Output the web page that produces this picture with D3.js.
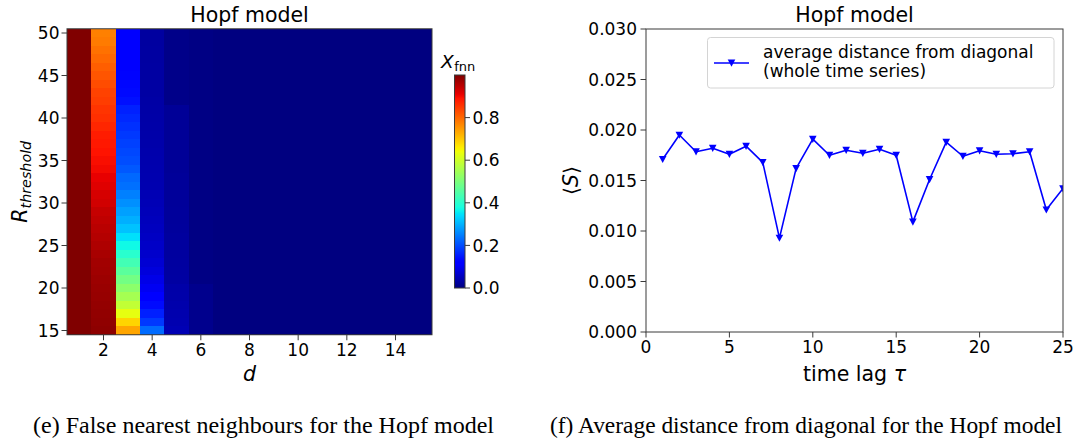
<!DOCTYPE html>
<html lang="en">
<head>
<meta charset="utf-8">
<title>Hopf model - false nearest neighbours and distance from diagonal</title>
<style>
  body { margin: 0; background: #fff; }
  svg text { font-family: "DejaVu Sans", sans-serif; fill: #000; }
  svg text.caption { font-family: "Liberation Serif", "Times New Roman", serif; }
</style>
</head>
<body>
<div id="chart"></div>
<script src="https://cdn.jsdelivr.net/npm/d3@7"></script>
<script>
// ---- data -------------------------------------------------------------
// embedding dimension d (columns) and threshold R (rows, top row first)
var dValues = [1, 2, 3, 4, 5, 6, 7, 8, 9, 10, 11, 12, 13, 14, 15];
var rValues = [50, 49, 48, 47, 46, 45, 44, 43, 42, 41, 40, 39, 38, 37, 36, 35, 34, 33,
               32, 31, 30, 29, 28, 27, 26, 25, 24, 23, 22, 21, 20, 19, 18, 17, 16, 15];

// fraction of false nearest neighbours, one row per R (same order as rValues), d = 1..15
var xfnn = [
  [1.0, 0.775, 0.120, 0.028, 0.008, 0.004, 0, 0, 0, 0, 0, 0, 0, 0, 0],
  [1.0, 0.780, 0.120, 0.028, 0.008, 0.004, 0, 0, 0, 0, 0, 0, 0, 0, 0],
  [1.0, 0.790, 0.122, 0.029, 0.008, 0.004, 0, 0, 0, 0, 0, 0, 0, 0, 0],
  [1.0, 0.800, 0.124, 0.029, 0.008, 0.004, 0, 0, 0, 0, 0, 0, 0, 0, 0],
  [1.0, 0.810, 0.125, 0.030, 0.008, 0.004, 0, 0, 0, 0, 0, 0, 0, 0, 0],
  [1.0, 0.820, 0.127, 0.030, 0.008, 0.004, 0, 0, 0, 0, 0, 0, 0, 0, 0],
  [1.0, 0.830, 0.130, 0.031, 0.008, 0.004, 0, 0, 0, 0, 0, 0, 0, 0, 0],
  [1.0, 0.840, 0.133, 0.031, 0.008, 0.004, 0, 0, 0, 0, 0, 0, 0, 0, 0],
  [1.0, 0.845, 0.140, 0.032, 0.008, 0.004, 0, 0, 0, 0, 0, 0, 0, 0, 0],
  [1.0, 0.855, 0.156, 0.033, 0.020, 0.004, 0, 0, 0, 0, 0, 0, 0, 0, 0],
  [1.0, 0.860, 0.164, 0.034, 0.020, 0.004, 0, 0, 0, 0, 0, 0, 0, 0, 0],
  [1.0, 0.870, 0.172, 0.035, 0.020, 0.004, 0, 0, 0, 0, 0, 0, 0, 0, 0],
  [1.0, 0.880, 0.180, 0.036, 0.020, 0.004, 0, 0, 0, 0, 0, 0, 0, 0, 0],
  [1.0, 0.885, 0.188, 0.037, 0.020, 0.004, 0, 0, 0, 0, 0, 0, 0, 0, 0],
  [1.0, 0.890, 0.195, 0.038, 0.020, 0.004, 0, 0, 0, 0, 0, 0, 0, 0, 0],
  [1.0, 0.895, 0.200, 0.039, 0.020, 0.004, 0, 0, 0, 0, 0, 0, 0, 0, 0],
  [1.0, 0.900, 0.211, 0.040, 0.020, 0.004, 0, 0, 0, 0, 0, 0, 0, 0, 0],
  [1.0, 0.910, 0.227, 0.041, 0.022, 0.004, 0, 0, 0, 0, 0, 0, 0, 0, 0],
  [1.0, 0.917, 0.235, 0.042, 0.022, 0.004, 0, 0, 0, 0, 0, 0, 0, 0, 0],
  [1.0, 0.925, 0.250, 0.045, 0.023, 0.004, 0, 0, 0, 0, 0, 0, 0, 0, 0],
  [1.0, 0.930, 0.266, 0.047, 0.023, 0.004, 0, 0, 0, 0, 0, 0, 0, 0, 0],
  [1.0, 0.940, 0.282, 0.050, 0.024, 0.004, 0, 0, 0, 0, 0, 0, 0, 0, 0],
  [1.0, 0.945, 0.297, 0.052, 0.024, 0.004, 0, 0, 0, 0, 0, 0, 0, 0, 0],
  [1.0, 0.950, 0.315, 0.055, 0.025, 0.004, 0, 0, 0, 0, 0, 0, 0, 0, 0],
  [1.0, 0.955, 0.345, 0.058, 0.026, 0.004, 0, 0, 0, 0, 0, 0, 0, 0, 0],
  [1.0, 0.960, 0.370, 0.062, 0.026, 0.004, 0, 0, 0, 0, 0, 0, 0, 0, 0],
  [1.0, 0.965, 0.400, 0.066, 0.027, 0.004, 0, 0, 0, 0, 0, 0, 0, 0, 0],
  [1.0, 0.970, 0.430, 0.072, 0.028, 0.004, 0, 0, 0, 0, 0, 0, 0, 0, 0],
  [1.0, 0.972, 0.460, 0.080, 0.029, 0.004, 0, 0, 0, 0, 0, 0, 0, 0, 0],
  [1.0, 0.975, 0.490, 0.090, 0.030, 0.004, 0, 0, 0, 0, 0, 0, 0, 0, 0],
  [1.0, 0.978, 0.520, 0.100, 0.035, 0.012, 0, 0, 0, 0, 0, 0, 0, 0, 0],
  [1.0, 0.980, 0.550, 0.112, 0.036, 0.012, 0, 0, 0, 0, 0, 0, 0, 0, 0],
  [1.0, 0.982, 0.585, 0.135, 0.038, 0.012, 0, 0, 0, 0, 0, 0, 0, 0, 0],
  [1.0, 0.984, 0.630, 0.155, 0.040, 0.012, 0, 0, 0, 0, 0, 0, 0, 0, 0],
  [1.0, 0.986, 0.685, 0.180, 0.042, 0.012, 0, 0, 0, 0, 0, 0, 0, 0, 0],
  [1.0, 0.988, 0.735, 0.230, 0.045, 0.012, 0, 0, 0, 0, 0, 0, 0, 0, 0]
];

// average distance from diagonal vs time lag
var lags = [1, 2, 3, 4, 5, 6, 7, 8, 9, 10, 11, 12, 13, 14, 15, 16, 17, 18, 19, 20, 21, 22, 23, 24, 25];
var avgDist = [0.0171, 0.0195, 0.01785, 0.0182, 0.0176, 0.0184, 0.0168, 0.0093, 0.0162, 0.0191,
               0.0175, 0.0180, 0.0177, 0.0181, 0.0175, 0.0109, 0.0151, 0.0188, 0.0174, 0.01795,
               0.0176, 0.01765, 0.01785, 0.0121, 0.0142];

var hmXTicks = [2, 4, 6, 8, 10, 12, 14];
var hmYTicks = [15, 20, 25, 30, 35, 40, 45, 50];
var cbTicks = [0.0, 0.2, 0.4, 0.6, 0.8];
var lagTicks = [0, 5, 10, 15, 20, 25];
var distTicks = [0, 0.005, 0.010, 0.015, 0.020, 0.025, 0.030];

// ---- setup ------------------------------------------------------------
var W = 1075, H = 444;
var axisColor = '#3a3a3a';
var tickFont = 17, labelFont = 20.5;

var svg = d3.select('#chart').append('svg')
  .attr('width', W).attr('height', H)
  .style('display', 'block');

svg.append('rect').attr('width', W).attr('height', H).attr('fill', '#fff');

// matplotlib "jet" colormap built from per-channel linear scales
var jr = d3.scaleLinear().domain([0, 0.35, 0.66, 0.89, 1]).range([0, 0, 1, 1, 0.5]).clamp(true);
var jg = d3.scaleLinear().domain([0, 0.125, 0.375, 0.64, 0.91, 1]).range([0, 0, 1, 1, 0, 0]).clamp(true);
var jb = d3.scaleLinear().domain([0, 0.11, 0.34, 0.65, 1]).range([0.5, 1, 1, 0, 0]).clamp(true);
function jet(v) {
  return d3.rgb(Math.round(jr(v) * 255), Math.round(jg(v) * 255), Math.round(jb(v) * 255)).formatHex();
}

// ---- left panel: heatmap ---------------------------------------------
var hm = { left: 67, right: 432, top: 28.75, bottom: 334.75 };
var hx = d3.scaleLinear().domain([0.5, 15.5]).range([hm.left, hm.right]);
var hy = d3.scaleLinear().domain([14.5, 50.5]).range([hm.bottom, hm.top]);

var cells = [];
rValues.forEach(function(r, i) {
  dValues.forEach(function(d, j) {
    cells.push({ d: d, r: r, v: xfnn[i][j] });
  });
});

// snap cell edges to whole pixels so neighbouring cells meet without seams
svg.append('g').attr('shape-rendering', 'crispEdges')
  .selectAll('rect')
  .data(cells)
  .enter().append('rect')
  .attr('x', function(c) { return Math.round(hx(c.d - 0.5)); })
  .attr('y', function(c) { return Math.round(hy(c.r + 0.5)); })
  .attr('width', function(c) { return Math.round(hx(c.d + 0.5)) - Math.round(hx(c.d - 0.5)); })
  .attr('height', function(c) { return Math.round(hy(c.r - 0.5)) - Math.round(hy(c.r + 0.5)); })
  .attr('fill', function(c) { return jet(c.v); });

svg.append('rect')
  .attr('x', hm.left).attr('y', hm.top)
  .attr('width', hm.right - hm.left).attr('height', hm.bottom - hm.top)
  .attr('fill', 'none').attr('stroke', axisColor).attr('stroke-width', 1);

// x ticks
var hxt = svg.append('g').selectAll('g').data(hmXTicks).enter().append('g');
hxt.append('line')
  .attr('x1', hx).attr('x2', hx)
  .attr('y1', hm.bottom).attr('y2', hm.bottom + 5.5)
  .attr('stroke', axisColor);
hxt.append('text')
  .attr('x', hx).attr('y', hm.bottom + 21)
  .attr('text-anchor', 'middle').attr('font-size', tickFont)
  .text(function(d) { return d; });

// y ticks
var hyt = svg.append('g').selectAll('g').data(hmYTicks).enter().append('g');
hyt.append('line')
  .attr('x1', hm.left - 5.5).attr('x2', hm.left)
  .attr('y1', hy).attr('y2', hy)
  .attr('stroke', axisColor);
hyt.append('text')
  .attr('x', hm.left - 7.5).attr('y', hy).attr('dy', '0.36em')
  .attr('text-anchor', 'end').attr('font-size', tickFont)
  .text(function(d) { return d; });

svg.append('text')
  .attr('x', (hm.left + hm.right) / 2).attr('y', 22)
  .attr('text-anchor', 'middle').attr('font-size', labelFont)
  .text('Hopf model');

svg.append('text')
  .attr('x', (hm.left + hm.right) / 2).attr('y', 381)
  .attr('text-anchor', 'middle').attr('font-size', labelFont)
  .attr('font-style', 'italic')
  .text('d');

var rlab = svg.append('text')
  .attr('transform', 'translate(27,' + ((hm.top + hm.bottom) / 2) + ') rotate(-90)')
  .attr('text-anchor', 'middle').attr('font-size', labelFont)
  .attr('font-style', 'italic');
rlab.append('tspan').text('R');
rlab.append('tspan').attr('font-size', 14.3).attr('dy', 4).text('threshold');

// colorbar
var cb = { left: 454.5, right: 465, top: 75, bottom: 288 };
var cy = d3.scaleLinear().domain([0, 1]).range([cb.bottom, cb.top]);

var grad = svg.append('defs').append('linearGradient')
  .attr('id', 'jetGrad')
  .attr('x1', 0).attr('y1', 1).attr('x2', 0).attr('y2', 0);
grad.selectAll('stop')
  .data(d3.range(0, 101))
  .enter().append('stop')
  .attr('offset', function(i) { return (i / 100); })
  .attr('stop-color', function(i) { return jet(i / 100); });

svg.append('rect')
  .attr('x', cb.left).attr('y', cb.top)
  .attr('width', cb.right - cb.left).attr('height', cb.bottom - cb.top)
  .attr('fill', 'url(#jetGrad)')
  .attr('stroke', axisColor).attr('stroke-width', 1);

var cbt = svg.append('g').selectAll('g').data(cbTicks).enter().append('g');
cbt.append('line')
  .attr('x1', cb.right).attr('x2', cb.right + 5)
  .attr('y1', cy).attr('y2', cy)
  .attr('stroke', axisColor);
cbt.append('text')
  .attr('x', cb.right + 7.5).attr('y', cy).attr('dy', '0.36em')
  .attr('font-size', tickFont)
  .text(function(d) { return d.toFixed(1); });

var xl = svg.append('text').attr('x', 441).attr('y', 68);
xl.append('tspan').attr('font-style', 'italic').attr('font-size', 18.5).text('X');
xl.append('tspan').attr('font-size', 13).attr('dy', 2.5).attr('dx', 0.5).text('fnn');

// ---- right panel: line chart -------------------------------------------
var lc = { left: 646, right: 1063, top: 29, bottom: 332 };
var lx = d3.scaleLinear().domain([0, 25]).range([lc.left, lc.right]);
var ly = d3.scaleLinear().domain([0, 0.03]).range([lc.bottom, lc.top]);

svg.append('defs').append('clipPath').attr('id', 'plotClip')
  .append('rect')
  .attr('x', lc.left).attr('y', lc.top)
  .attr('width', lc.right - lc.left).attr('height', lc.bottom - lc.top);

var pts = lags.map(function(t, i) { return { t: t, v: avgDist[i] }; });

var plot = svg.append('g').attr('clip-path', 'url(#plotClip)');
plot.append('path')
  .datum(pts)
  .attr('d', d3.line().x(function(p) { return lx(p.t); }).y(function(p) { return ly(p.v); }))
  .attr('fill', 'none').attr('stroke', '#0000ff').attr('stroke-width', 1.6)
  .attr('stroke-linejoin', 'round');

// downward triangle marker
var tri = 'M-3.8,-3.4L3.8,-3.4L0,3.8Z';
plot.selectAll('.mk')
  .data(pts)
  .enter().append('path')
  .attr('class', 'mk')
  .attr('d', tri)
  .attr('transform', function(p) { return 'translate(' + lx(p.t) + ',' + ly(p.v) + ')'; })
  .attr('fill', '#0000ff');

svg.append('rect')
  .attr('x', lc.left).attr('y', lc.top)
  .attr('width', lc.right - lc.left).attr('height', lc.bottom - lc.top)
  .attr('fill', 'none').attr('stroke', axisColor).attr('stroke-width', 1);

var lxt = svg.append('g').selectAll('g').data(lagTicks).enter().append('g');
lxt.append('line')
  .attr('x1', lx).attr('x2', lx)
  .attr('y1', lc.bottom).attr('y2', lc.bottom + 5.5)
  .attr('stroke', axisColor);
lxt.append('text')
  .attr('x', lx).attr('y', lc.bottom + 21)
  .attr('text-anchor', 'middle').attr('font-size', tickFont)
  .text(function(d) { return d; });

var lyt = svg.append('g').selectAll('g').data(distTicks).enter().append('g');
lyt.append('line')
  .attr('x1', lc.left - 5.5).attr('x2', lc.left)
  .attr('y1', ly).attr('y2', ly)
  .attr('stroke', axisColor);
lyt.append('text')
  .attr('x', lc.left - 9).attr('y', ly).attr('dy', '0.36em')
  .attr('text-anchor', 'end').attr('font-size', tickFont)
  .text(function(d) { return d.toFixed(3); });

svg.append('text')
  .attr('x', (lc.left + lc.right) / 2).attr('y', 22)
  .attr('text-anchor', 'middle').attr('font-size', labelFont)
  .text('Hopf model');

var tl = svg.append('text')
  .attr('x', (lc.left + lc.right) / 2).attr('y', 381)
  .attr('text-anchor', 'middle').attr('font-size', labelFont);
tl.append('tspan').text('time lag ');
tl.append('tspan').attr('font-style', 'italic').text('τ');

var sl = svg.append('text')
  .attr('transform', 'translate(578,' + ((lc.top + lc.bottom) / 2) + ') rotate(-90)')
  .attr('text-anchor', 'middle').attr('font-size', labelFont);
sl.append('tspan').text('⟨');
sl.append('tspan').attr('font-style', 'italic').text('S');
sl.append('tspan').text('⟩');

// legend
var lg = svg.append('g');
lg.append('rect')
  .attr('x', 707.5).attr('y', 37.5).attr('width', 346.5).attr('height', 50.5)
  .attr('rx', 3)
  .attr('fill', '#fff').attr('fill-opacity', 0.8)
  .attr('stroke', '#d4d4d4').attr('stroke-width', 1);
lg.append('line')
  .attr('x1', 714).attr('x2', 749).attr('y1', 63).attr('y2', 63)
  .attr('stroke', '#0000ff').attr('stroke-width', 1.6);
lg.append('path')
  .attr('d', tri).attr('transform', 'translate(731.5,63)')
  .attr('fill', '#0000ff');
lg.append('text').attr('x', 763).attr('y', 57.5).attr('font-size', tickFont)
  .text('average distance from diagonal');
lg.append('text').attr('x', 763).attr('y', 76.5).attr('font-size', tickFont)
  .text('(whole time series)');

// ---- captions ---------------------------------------------------------
svg.append('text').attr('class', 'caption')
  .attr('x', 33).attr('y', 433).attr('font-size', 24)
  .attr('textLength', 461).attr('lengthAdjust', 'spacingAndGlyphs')
  .text('(e) False nearest neighbours for the Hopf model');
svg.append('text').attr('class', 'caption')
  .attr('x', 550).attr('y', 433).attr('font-size', 24)
  .attr('textLength', 512).attr('lengthAdjust', 'spacingAndGlyphs')
  .text('(f) Average distance from diagonal for the Hopf model');
</script>
</body>
</html>
